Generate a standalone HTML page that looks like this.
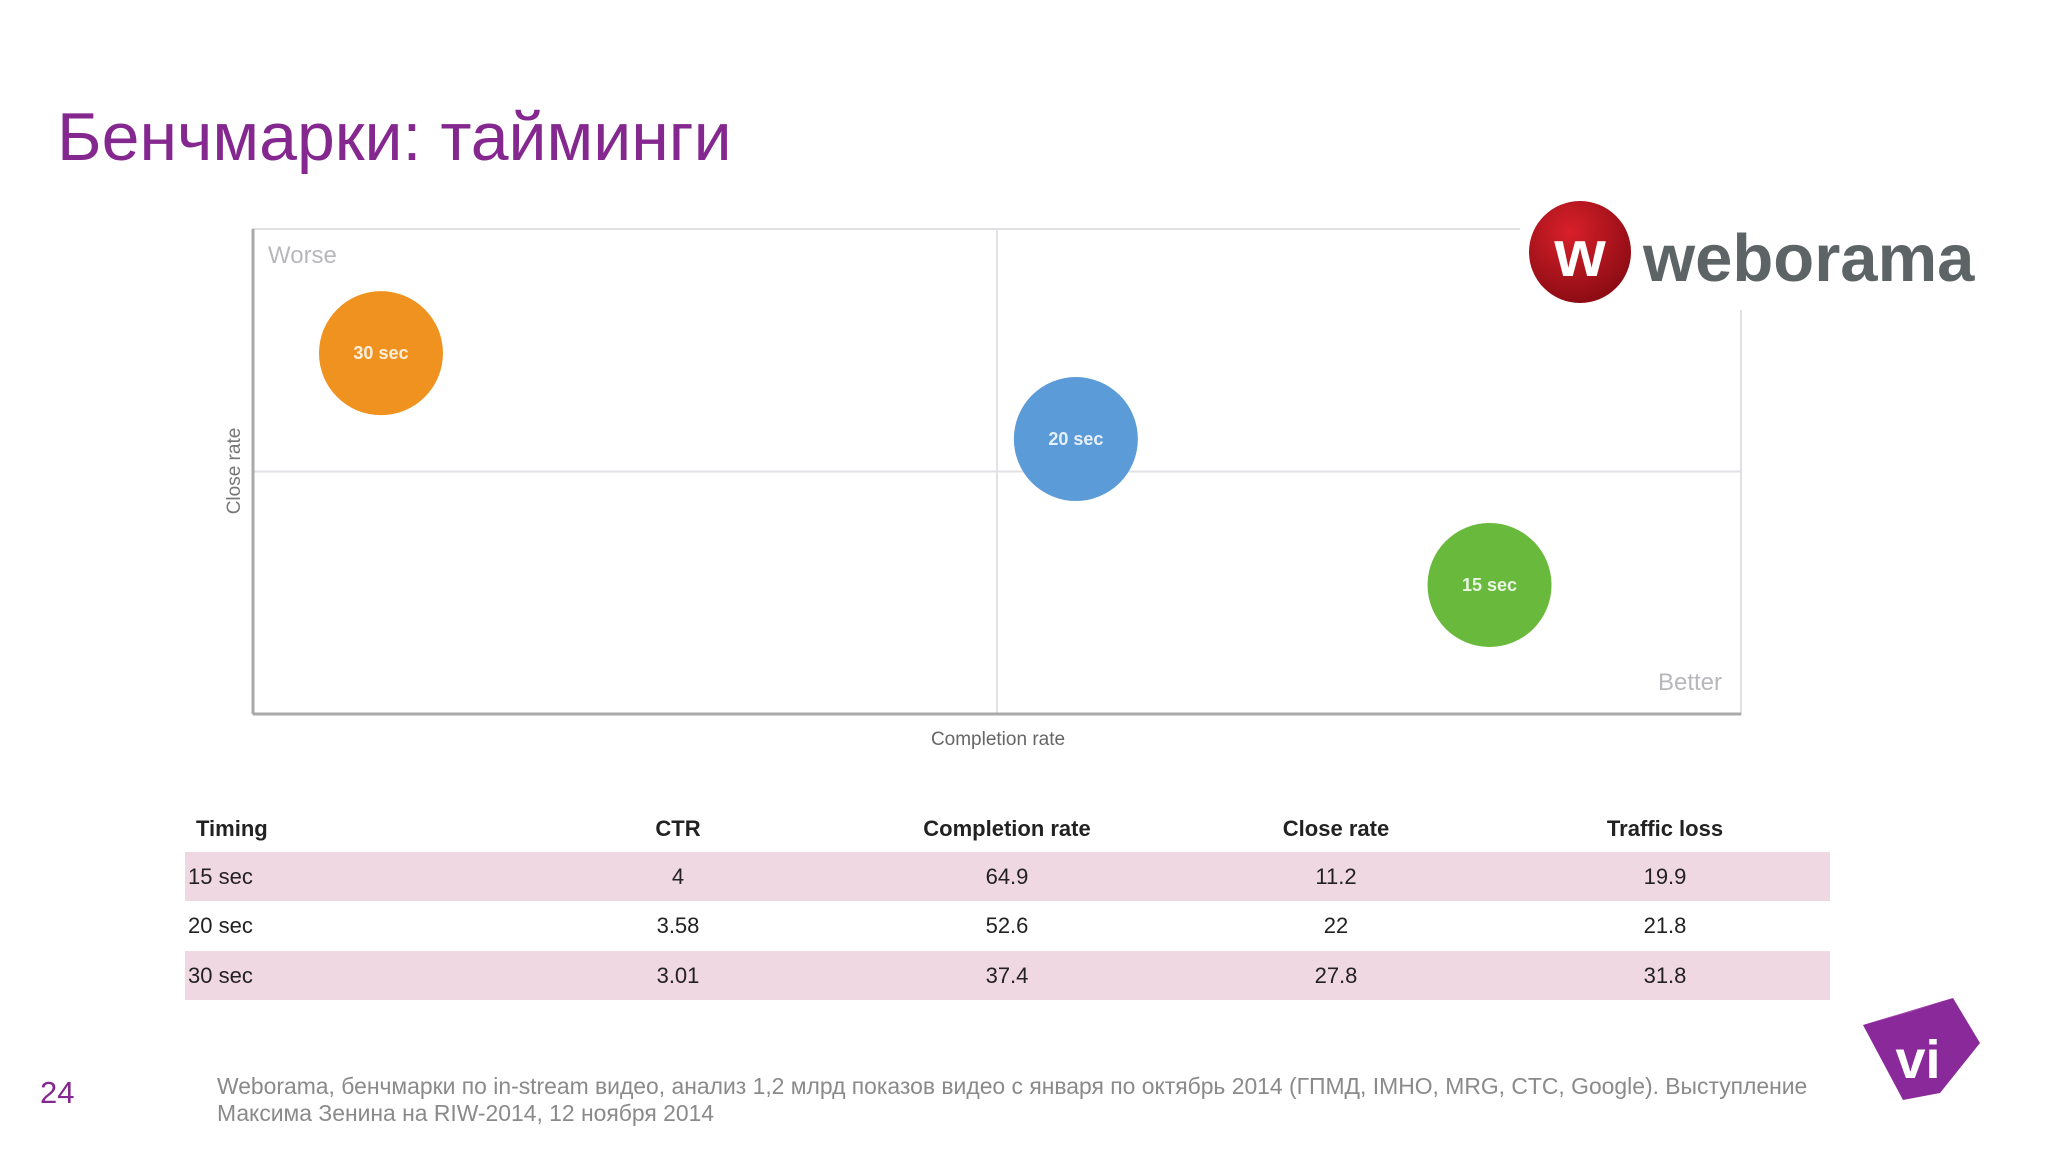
<!DOCTYPE html>
<html><head><meta charset="utf-8"><style>
body{margin:0;width:2048px;height:1152px;background:#fff;position:relative;overflow:hidden;font-family:"Liberation Sans","DejaVu Sans",sans-serif}
.abs{position:absolute}
</style></head><body>
<div class="abs" style="left:57px;top:98px;font-size:68px;color:#84278f;white-space:nowrap">Бенчмарки: тайминги</div>
<svg class="abs" style="left:0;top:0" width="2048" height="1152">
<g id="chart"></g>
</svg>
<div class="abs" style="left:1520px;top:190px;width:480px;height:120px;background:#fff">
<svg width="480" height="120" style="position:absolute;left:0;top:0">
<defs><radialGradient id="rg" cx="40%" cy="30%" r="70%"><stop offset="0" stop-color="#d8202a"/><stop offset="1" stop-color="#8e0c14"/></radialGradient></defs>
<circle cx="60" cy="62" r="51" fill="url(#rg)"/>
<text x="60" y="86" text-anchor="middle" font-family="Liberation Sans" font-weight="bold" font-size="66" fill="#fff">w</text>
<text x="123" y="91" font-family="Liberation Sans" font-weight="bold" font-size="67" fill="#5d6466">weborama</text>
</svg></div>
<div class="abs" style="left:185px;top:805px;width:1645px;font-size:22px;color:#222">
<div id="tbl"></div></div>
<div class="abs" style="left:40px;top:1075px;font-size:31px;color:#84278f">24</div>
<div class="abs" style="left:217px;top:1073px;font-size:22.9px;color:#8a8a8a;line-height:27px;width:1700px">Weborama, бенчмарки по in-stream видео, анализ 1,2 млрд показов видео с января по октябрь 2014 (ГПМД, IMHO, MRG, CTC, Google). Выступление<br>Максима Зенина на RIW-2014, 12 ноября 2014</div>
<svg class="abs" style="left:1850px;top:990px" width="140" height="120">
<polygon points="13,35 103,8 130,53 90,103 53,110" fill="#8a2a9a"/>
<polygon points="13,35 103,8 60,22" fill="#b24ab8"/>
<text x="68" y="88" text-anchor="middle" font-family="Liberation Sans" font-weight="bold" font-size="54" fill="#fff">vi</text>
</svg>
<script>
const labels=["30 sec","20 sec","15 sec"];
const completion=[8.6,55.3,83.1];
const closeRate=[74.4,56.7,26.6];
const colors=["#f0921f","#5b9bd8","#69b93c"];
const headers=["Timing","CTR","Completion rate","Close rate","Traffic loss"];
const rowsTiming=["15 sec","20 sec","30 sec"];
const ctr=["4","3.58","3.01"];
const compl=["64.9","52.6","37.4"];
const closeR=["11.2","22","27.8"];
const traffic=["19.9","21.8","31.8"];
const L=253,R=1741,T=229,B=714;
const sx=v=>L+(R-L)*v/100, sy=v=>B-(B-T)*v/100;
const NS="http://www.w3.org/2000/svg";
const g=document.getElementById('chart');
function mk(t,a,txt){const e=document.createElementNS(NS,t);for(const k in a)e.setAttribute(k,a[k]);if(txt)e.textContent=txt;g.appendChild(e);return e;}
let e;
e=mk('rect',{x:L,y:T,width:R-L,height:B-T,fill:'none',stroke:'#e0e0e4','stroke-width':2});

e=mk('line',{x1:sx(50),x2:sx(50),y1:T,y2:B,stroke:'#e2e2e6','stroke-width':2});

e=mk('line',{x1:L,x2:R,y1:sy(50),y2:sy(50),stroke:'#e2e2e6','stroke-width':2});

e=mk('line',{x1:L,x2:L,y1:T,y2:B,stroke:'#aaa','stroke-width':3});

e=mk('line',{x1:L,x2:R,y1:B,y2:B,stroke:'#aaa','stroke-width':3});

e=mk('text',{x:268,y:263,'font-size':24,fill:'#b8b8bc','font-family':'Liberation Sans'},'Worse');

e=mk('text',{x:1722,y:690,'font-size':24,fill:'#b8b8bc','text-anchor':'end','font-family':'Liberation Sans'},'Better');

e=mk('text',{x:998,y:745,'font-size':19,fill:'#666','text-anchor':'middle','font-family':'Liberation Sans'},'Completion rate');

e=mk('text',{x:0,y:0,'font-size':19,fill:'#777','text-anchor':'middle','font-family':'Liberation Sans',transform:'translate(240,471) rotate(-90)'},'Close rate');

labels.forEach((l,i)=>{
 const c=mk('circle',{cx:sx(completion[i]),cy:sy(closeRate[i]),r:62,fill:colors[i]});
 
 
 const t=mk('text',{x:sx(completion[i]),y:sy(closeRate[i])+6,'font-size':18,'font-weight':'bold',fill:'#fff','fill-opacity':0.85,'text-anchor':'middle','font-family':'Liberation Sans'},l);
 
 
});
const tbl=document.getElementById('tbl');
const colC=[null,493,822,1151,1480];
function row(cells,bg,bold,h,name){
 const r=document.createElement('div');
 
 
 r.style.cssText='position:relative;height:'+h+'px;background:'+bg+';font-weight:'+(bold?'bold':'normal');
 cells.forEach((c,j)=>{const d=document.createElement('div');
  
  
  d.textContent=c;
  d.style.cssText='position:absolute;top:0;line-height:'+h+'px;'+(j==0?'left:'+(bold?11:3)+'px':'left:'+(colC[j]-150)+'px;width:300px;text-align:center');
  r.appendChild(d);});
 tbl.appendChild(r);
}
row(headers,'#fff',true,47,'table-header');
rowsTiming.forEach((t,i)=>row([t,ctr[i],compl[i],closeR[i],traffic[i]],i%2==0?'#f0d8e2':'#fff',false,i==1?50:49,'table-row-'+t.replace(' ','-')));
</script>
</body></html>
